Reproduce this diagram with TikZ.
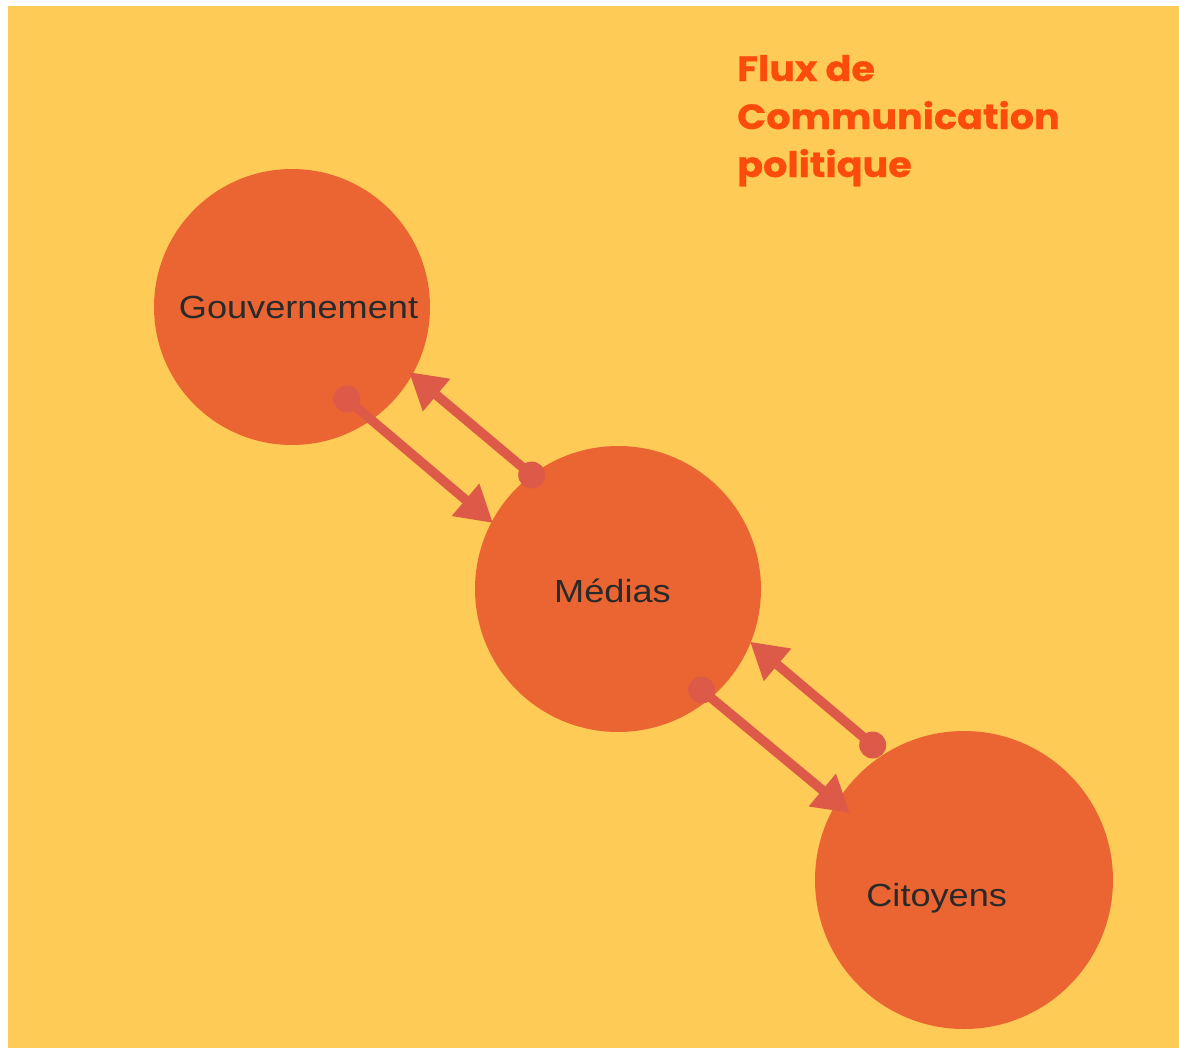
\documentclass[tikz,border=0pt]{standalone}
\usepackage{fontspec}
\setmainfont{Liberation Sans}
\newfontfamily\labelfont[FakeStretch=1.13]{Liberation Sans}
\newfontfamily\titlefont[FakeStretch=1.09,FakeBold=0.6]{Poppins}
\usetikzlibrary{arrows.meta}

\definecolor{bgyellow}{RGB}{254,203,87}
\definecolor{bubbleorange}{RGB}{235,101,51}
\definecolor{flowred}{RGB}{222,90,72}
\definecolor{titleorange}{RGB}{252,76,12}
\definecolor{labelgray}{RGB}{42,42,42}

\tikzset{
  bubble/.style={circle, fill=bubbleorange, draw=none, inner sep=0pt},
  bubbletext/.style={anchor=base, inner sep=0pt, text=labelgray,
    font=\labelfont\fontsize{32}{32}\selectfont},
  flow/.style={draw=flowred, line width=9.5pt, -{Triangle[length=36pt,width=40pt]}},
  flowdot/.style={circle, fill=flowred, inner sep=0pt, minimum size=27pt}
}

\begin{document}
\begin{tikzpicture}[x=1pt,y=-1pt]

\useasboundingbox (0,0) rectangle (1179,1052);
\fill[white] (0,0) rectangle (1179,1052);
\fill[bgyellow] (8,6) rectangle (1179,1048);

% the three actors
\node[bubble, minimum size=276pt] (gouv) at (292,307) {};
\node[bubble, minimum size=286pt] (medias) at (618,589) {};
\node[bubble, minimum size=298pt] (citoyens) at (964,880) {};

\node[bubbletext] (gouvtext) at (298.5,318) {Gouvernement};
\node[bubbletext] (mediastext) at (612.5,602) {Médias};
\node[bubbletext] (citoyenstext) at (936.7,906.7) {Citoyens};

% flows between them
\node[flowdot] (gouvout) at (346.7,399) {};
\coordinate (mediasin) at (493,523);
\node[flowdot] (mediasback) at (531.7,475) {};
\coordinate (gouvin) at (409,372);
\node[flowdot] (mediasout) at (701.7,690) {};
\coordinate (citoyensin) at (850,813);
\node[flowdot] (citoyensback) at (872.7,745) {};
\coordinate (mediasin2) at (750,641.7);

\draw[flow] (gouvout.center) -- (mediasin);
\draw[flow] (mediasback.center) -- (gouvin);
\draw[flow] (mediasout.center) -- (citoyensin);
\draw[flow] (citoyensback.center) -- (mediasin2);

% title
\node[anchor=base west, inner sep=0pt, align=left, text=titleorange,
  font=\titlefont\bfseries\fontsize{35}{48}\selectfont] (title) at (737,177)
  {Flux de\\Communication\\politique};

\end{tikzpicture}
\end{document}
